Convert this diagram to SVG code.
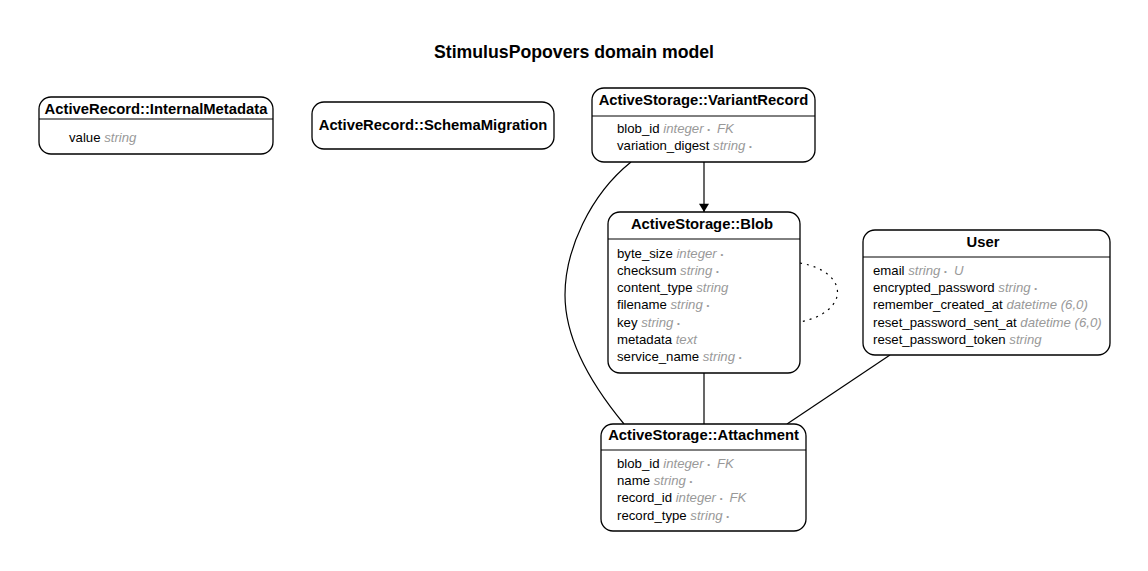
<svg xmlns="http://www.w3.org/2000/svg" width="1148" height="571" viewBox="0 0 1148 571">
<defs>
<style>
.box{fill:#fff;stroke:#000;stroke-width:1.3}
.sep{stroke:#000;stroke-width:1}
.t{font-family:"Liberation Sans",Arial,sans-serif;font-weight:bold;font-size:14.8px;fill:#000}
.a{font-family:"Liberation Sans",Arial,sans-serif;font-size:13.2px;fill:#000}
.ty{fill:#999;font-style:italic}
.b{font-size:8px;font-style:normal}
.e{fill:none;stroke:#000;stroke-width:1.2}
</style>
<marker id="arr" viewBox="0 0 10 12" refX="10" refY="6" markerWidth="12" markerHeight="10" markerUnits="userSpaceOnUse" orient="auto">
<path d="M0,0 L10,6 L0,12 z" fill="#000"/>
</marker>
</defs>
<rect width="1148" height="571" fill="#fff"/>
<text x="574" y="58" text-anchor="middle" font-family="Liberation Sans,Arial,sans-serif" font-weight="bold" font-size="17.7px">StimulusPopovers domain model</text>

<g id="connectors">
<path class="e" d="M704,162 L704,212" marker-end="url(#arr)"/>
<path class="e" d="M631,162 C590,195 565,250 565,295 C565,345 600,395 624,424"/>
<path class="e" d="M704,373 L704,424"/>
<path class="e" d="M890,355 L787,424"/>
<path class="e" d="M800,263 C850,272 850,312 800,322" stroke-dasharray="2,5"/>
</g>

<g id="internalmetadata">
<rect class="box" x="39" y="97" width="234" height="57" rx="12"/>
<line class="sep" x1="39" y1="119" x2="273" y2="119"/>
<text class="t" x="156" y="114" text-anchor="middle">ActiveRecord::InternalMetadata</text>
<text class="a" x="69" y="142">value <tspan class="ty">string</tspan></text>
</g>

<g id="schemamigration">
<rect class="box" x="312" y="102" width="242" height="47" rx="12"/>
<text class="t" x="433" y="130" text-anchor="middle">ActiveRecord::SchemaMigration</text>
</g>

<g id="variantrecord">
<rect class="box" x="592" y="88" width="223" height="74" rx="12"/>
<line class="sep" x1="592" y1="116" x2="815" y2="116"/>
<text class="t" x="703.5" y="105" text-anchor="middle">ActiveStorage::VariantRecord</text>
<text class="a" x="617" y="133">blob_id <tspan class="ty">integer <tspan class="b" dy="-1">•</tspan><tspan dx="7" dy="1">FK</tspan></tspan></text>
<text class="a" x="617" y="150">variation_digest <tspan class="ty">string <tspan class="b" dy="-1">•</tspan></tspan></text>
</g>

<g id="blob">
<rect class="box" x="608" y="212" width="192" height="161" rx="12"/>
<line class="sep" x1="608" y1="239" x2="800" y2="239"/>
<text class="t" x="702" y="229" text-anchor="middle">ActiveStorage::Blob</text>
<text class="a" x="617" y="258">byte_size <tspan class="ty">integer <tspan class="b" dy="-1">•</tspan></tspan></text>
<text class="a" x="617" y="275">checksum <tspan class="ty">string <tspan class="b" dy="-1">•</tspan></tspan></text>
<text class="a" x="617" y="292">content_type <tspan class="ty">string</tspan></text>
<text class="a" x="617" y="309">filename <tspan class="ty">string <tspan class="b" dy="-1">•</tspan></tspan></text>
<text class="a" x="617" y="327">key <tspan class="ty">string <tspan class="b" dy="-1">•</tspan></tspan></text>
<text class="a" x="617" y="344">metadata <tspan class="ty">text</tspan></text>
<text class="a" x="617" y="361">service_name <tspan class="ty">string <tspan class="b" dy="-1">•</tspan></tspan></text>
</g>

<g id="user">
<rect class="box" x="863" y="230" width="247" height="125" rx="12"/>
<line class="sep" x1="863" y1="257" x2="1110" y2="257"/>
<text class="t" x="983" y="247" text-anchor="middle">User</text>
<text class="a" x="873" y="275">email <tspan class="ty">string <tspan class="b" dy="-1">•</tspan><tspan dx="7" dy="1">U</tspan></tspan></text>
<text class="a" x="873" y="292">encrypted_password <tspan class="ty">string <tspan class="b" dy="-1">•</tspan></tspan></text>
<text class="a" x="873" y="309">remember_created_at <tspan class="ty">datetime (6,0)</tspan></text>
<text class="a" x="873" y="327">reset_password_sent_at <tspan class="ty">datetime (6,0)</tspan></text>
<text class="a" x="873" y="344">reset_password_token <tspan class="ty">string</tspan></text>
</g>

<g id="attachment">
<rect class="box" x="601" y="424" width="205" height="107" rx="12"/>
<line class="sep" x1="601" y1="450" x2="806" y2="450"/>
<text class="t" x="703.5" y="440" text-anchor="middle">ActiveStorage::Attachment</text>
<text class="a" x="617" y="468">blob_id <tspan class="ty">integer <tspan class="b" dy="-1">•</tspan><tspan dx="7" dy="1">FK</tspan></tspan></text>
<text class="a" x="617" y="485">name <tspan class="ty">string <tspan class="b" dy="-1">•</tspan></tspan></text>
<text class="a" x="617" y="502">record_id <tspan class="ty">integer <tspan class="b" dy="-1">•</tspan><tspan dx="7" dy="1">FK</tspan></tspan></text>
<text class="a" x="617" y="520">record_type <tspan class="ty">string <tspan class="b" dy="-1">•</tspan></tspan></text>
</g>
</svg>
